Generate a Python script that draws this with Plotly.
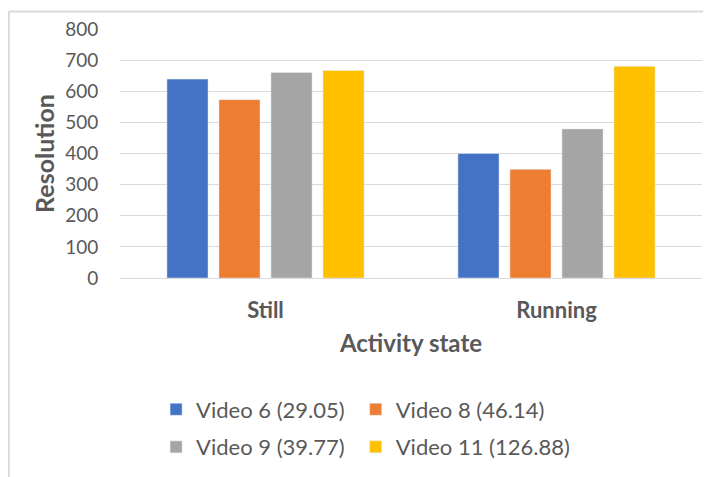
import plotly.graph_objects as go

states = ["Still", "Running"]
video6 = [639, 400]
video8 = [573, 349]
video9 = [660, 479]
video11 = [667, 680]
names = ["Video 6 (29.05)", "Video 8 (46.14)", "Video 9 (39.77)", "Video 11 (126.88)"]
colors = ["#4472C4", "#ED7D31", "#A5A5A5", "#FFC000"]

grey_text = "#595959"
font_name = "Lato"

fig = go.Figure()
series = [video6, video8, video9, video11]
# one small legend per entry so the 2x2 grid can be placed like the original
legend_refs = ["legend", "legend2", "legend3", "legend4"]
for vals, name, col, lg in zip(series, names, colors, legend_refs):
    fig.add_trace(go.Bar(x=states, y=vals, name=name, marker_color=col,
                         legend=lg, showlegend=True))

legend_style = dict(
    xanchor="left",
    yanchor="middle",
    font=dict(family=font_name, size=22, color=grey_text),
    bgcolor="rgba(0,0,0,0)",
)
col1, col2 = 0.062, 0.405
row1, row2 = -0.528, -0.679

# the page puts the figure 8px in from the window corner, so sizes are trimmed
fig.update_layout(
    width=703,
    height=469,
    margin=dict(l=112, r=9, t=19, b=194),
    plot_bgcolor="white",
    paper_bgcolor="white",
    showlegend=True,
    barmode="group",
    bargap=0.285,
    bargroupgap=0.21,
    font=dict(family=font_name, color=grey_text),
    legend=dict(x=col1, y=row1, **legend_style),
    legend2=dict(x=col2, y=row1, **legend_style),
    legend3=dict(x=col1, y=row2, **legend_style),
    legend4=dict(x=col2, y=row2, **legend_style),
)

fig.update_xaxes(
    showgrid=False,
    showline=False,
    ticks="outside",
    ticklen=13,
    tickcolor="rgba(0,0,0,0)",
    tickfont=dict(family=font_name, size=22, color=grey_text, weight="bold"),
    title=dict(text="Activity state", standoff=12,
               font=dict(family=font_name, size=24, color=grey_text, weight="bold")),
)
fig.update_yaxes(
    range=[0, 800],
    dtick=100,
    showgrid=True,
    gridcolor="#D9D9D9",
    gridwidth=1.3,
    zeroline=True,
    zerolinecolor="#D9D9D9",
    zerolinewidth=1.3,
    ticks="outside",
    ticklen=17,
    tickcolor="rgba(0,0,0,0)",
    tickfont=dict(family=font_name, size=19, color=grey_text),
    title=dict(text="Resolution", standoff=3,
               font=dict(family=font_name, size=25, color=grey_text, weight="bold")),
)

# chart area border (only top and left edges are visible in the picture)
fig.add_shape(type="line", xref="paper", yref="paper",
              x0=-0.191, x1=1.1, y0=1.07, y1=1.07,
              line=dict(color="#D9D9D9", width=2))
fig.add_shape(type="line", xref="paper", yref="paper",
              x0=-0.191, x1=-0.191, y0=1.07, y1=-0.8,
              line=dict(color="#D9D9D9", width=2))

fig.write_html("out.html")
